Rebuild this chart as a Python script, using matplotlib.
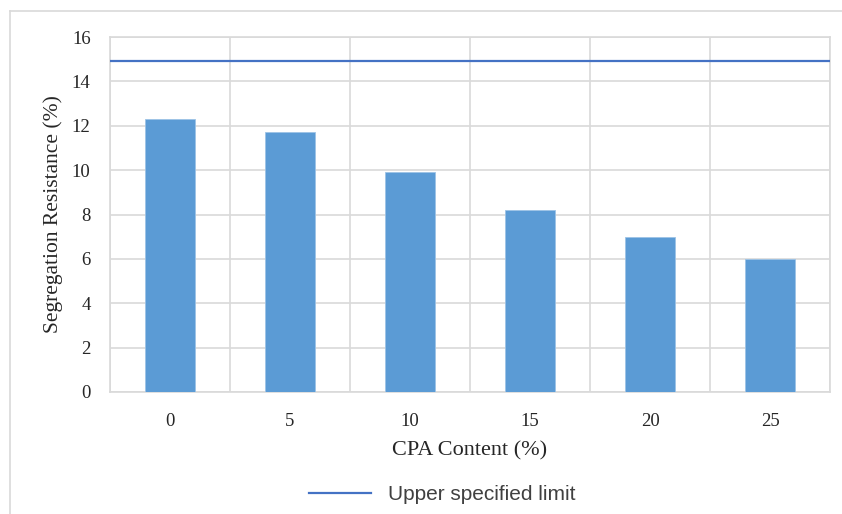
import matplotlib
matplotlib.use("Agg")
import matplotlib.pyplot as plt
from matplotlib.lines import Line2D

categories = ["0", "5", "10", "15", "20", "25"]
values = [12.3, 11.7, 9.9, 8.2, 7.0, 6.0]
upper_limit = 14.9
y_ticks = [0, 2, 4, 6, 8, 10, 12, 14, 16]

bar_color = "#5B9BD5"
line_color = "#4472C4"
grid_color = "#D9D9D9"

fig = plt.figure(figsize=(8.42, 5.14), dpi=100)
# outer chart-area border (top and left edges only visible)
fig.lines.append(Line2D([9.5/842, 1.0], [1 - 11/514, 1 - 11/514], transform=fig.transFigure,
                        color="#D9D9D9", linewidth=1.2))
fig.lines.append(Line2D([9.5/842, 9.5/842], [0, 1 - 11/514], transform=fig.transFigure,
                        color="#D9D9D9", linewidth=1.2))

ax = fig.add_axes([110/842, 1-392/514, 720/842, 355/514])

x = list(range(len(categories)))
ax.bar(x, values, width=0.41, color=bar_color, edgecolor="#9DC3E6", linewidth=0.6, zorder=3)
ax.axhline(upper_limit, color=line_color, linewidth=1.6, zorder=4)

ax.set_xlim(-0.5, len(categories) - 0.5)
ax.set_ylim(0, 16)
ax.set_yticks(y_ticks)
ax.set_xticks(x)
ax.set_xticklabels(categories)
ax.set_xticks([i - 0.5 for i in range(len(categories) + 1)], minor=True)
ax.grid(True, which="major", axis="y", color=grid_color, linewidth=1.2, zorder=0)
ax.grid(True, which="minor", axis="x", color=grid_color, linewidth=1.2, zorder=0)
ax.tick_params(which="both", length=0)
ax.tick_params(axis="y", pad=14)
ax.tick_params(axis="x", pad=15)
for s in ax.spines.values():
    s.set_color(grid_color)
    s.set_linewidth(1.2)

serif = ["Liberation Serif", "DejaVu Serif"]
for lab in ax.get_xticklabels() + ax.get_yticklabels():
    lab.set_family(serif)
    lab.set_fontsize(13.5)
    lab.set_color("#262626")
ax.set_xlabel("CPA Content (%)", family=serif, fontsize=16, color="#262626", labelpad=8)
ax.set_ylabel("Segregation Resistance (%)", family=serif, fontsize=15.5, color="#262626", labelpad=6)

handle = Line2D([0], [0], color=line_color, linewidth=1.6)
fig.legend([handle], ["Upper specified limit"], loc="center", bbox_to_anchor=(0.525, 1 - 495/514),
           frameon=False, prop={"family": ["Liberation Sans", "DejaVu Sans"], "size": 15},
           handlelength=3.0, handletextpad=0.8, labelcolor="#404040")

fig.savefig("out.png", dpi=100)
